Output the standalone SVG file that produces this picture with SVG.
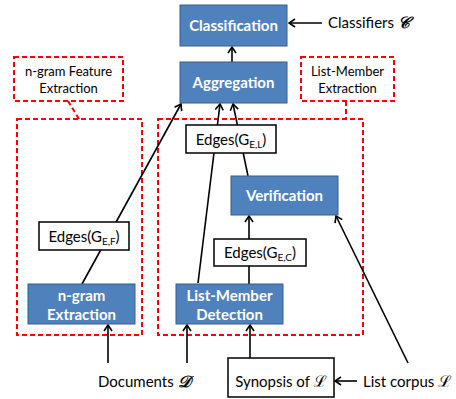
<svg xmlns="http://www.w3.org/2000/svg" width="456" height="399" viewBox="0 0 456 399">
<style>
.blue{fill:#4F81BD;stroke:#385D8A;stroke-width:1}
.wbox{fill:#fff;stroke:#000;stroke-width:1.5}
.dash{fill:none;stroke:#FF0000;stroke-width:2;stroke-dasharray:5,3}
.bt{font-family:Lato,"Liberation Sans",sans-serif;font-weight:bold;font-size:15px;fill:#fff;text-anchor:middle}
.t{font-family:Lato,"Liberation Sans",sans-serif;font-size:15px;fill:#000}
.lt{font-family:Lato,"Liberation Sans",sans-serif;font-size:13px;fill:#000;text-anchor:middle}
.sub{font-size:10px}
.m{font-family:"DejaVu Serif","Noto Sans",serif;font-weight:bold;font-style:italic;font-size:16px}
.c{fill:none;stroke:#000;stroke-width:1.6}
</style>
<defs>
<marker id="ah" markerWidth="10" markerHeight="10" refX="9" refY="5" orient="auto" markerUnits="userSpaceOnUse">
<path d="M3,1 L9,5 L3,9" fill="none" stroke="#000" stroke-width="1.6"/>
</marker>
</defs>

<g id="ngram-feature-label">
<rect class="dash" x="14" y="57" width="109" height="44"/>
<text class="lt" x="68.5" y="76">n-gram Feature</text>
<text class="lt" x="68.5" y="93">Extraction</text>
</g>
<g id="list-member-label">
<rect class="dash" x="301" y="57" width="93" height="44"/>
<text class="lt" x="347.5" y="76">List-Member</text>
<text class="lt" x="347.5" y="93">Extraction</text>
</g>
<g id="ngram-region">
<rect class="dash" x="17" y="119" width="125" height="216"/>
</g>
<g id="list-member-region">
<rect class="dash" x="158" y="119" width="205" height="216"/>
</g>

<g id="connectors">
<line class="dash" x1="68" y1="101" x2="79" y2="119"/>
<line class="dash" x1="346" y1="101" x2="346" y2="119"/>
<line class="c" x1="232" y1="62" x2="232" y2="47" marker-end="url(#ah)"/>
<line class="c" x1="322" y1="23" x2="289" y2="23" marker-end="url(#ah)"/>
<line class="c" x1="82" y1="284" x2="181" y2="104" marker-end="url(#ah)"/>
<line class="c" x1="198" y1="283" x2="220" y2="104" marker-end="url(#ah)"/>
<line class="c" x1="248" y1="176" x2="233" y2="104" marker-end="url(#ah)"/>
<line class="c" x1="249" y1="239" x2="249" y2="216" marker-end="url(#ah)"/>
<line class="c" x1="249" y1="284" x2="249" y2="266"/>
<line class="c" x1="108" y1="363" x2="108" y2="325" marker-end="url(#ah)"/>
<line class="c" x1="187" y1="363" x2="187" y2="325" marker-end="url(#ah)"/>
<line class="c" x1="250" y1="358" x2="250" y2="325" marker-end="url(#ah)"/>
<line class="c" x1="357" y1="381" x2="335" y2="381" marker-end="url(#ah)"/>
<line class="c" x1="408" y1="363" x2="336" y2="216" marker-end="url(#ah)"/>
</g>

<g id="classification">
<rect class="blue" x="180" y="5" width="107" height="41"/>
<text class="bt" x="233.5" y="31">Classification</text>
</g>
<g id="aggregation">
<rect class="blue" x="180" y="62" width="107" height="41"/>
<text class="bt" x="233.5" y="88">Aggregation</text>
</g>
<g id="classifiers">
<text class="t" x="328" y="28">Classifiers <tspan class="m">𝒞</tspan></text>
</g>
<g id="edges-gel">
<rect class="wbox" x="186" y="125" width="90" height="28"/>
<text class="t" x="231" y="144.5" text-anchor="middle">Edges(G<tspan class="sub" dy="3">E,L</tspan><tspan dy="-3">)</tspan></text>
</g>
<g id="verification">
<rect class="blue" x="231" y="176" width="107" height="39"/>
<text class="bt" x="284.5" y="201">Verification</text>
</g>
<g id="edges-gec">
<rect class="wbox" x="214" y="239" width="92" height="27"/>
<text class="t" x="260" y="258" text-anchor="middle">Edges(G<tspan class="sub" dy="3">E,C</tspan><tspan dy="-3">)</tspan></text>
</g>
<g id="edges-gef">
<rect class="wbox" x="39" y="222" width="90" height="28"/>
<text class="t" x="84" y="241.5" text-anchor="middle">Edges(G<tspan class="sub" dy="3">E,F</tspan><tspan dy="-3">)</tspan></text>
</g>
<g id="ngram-extraction">
<rect class="blue" x="28" y="284" width="107" height="40"/>
<text class="bt" x="81.5" y="300.5">n-gram</text>
<text class="bt" x="81.5" y="320">Extraction</text>
</g>
<g id="list-member-detection">
<rect class="blue" x="176" y="284" width="107" height="40"/>
<text class="bt" x="229.5" y="300.5">List-Member</text>
<text class="bt" x="229.5" y="320">Detection</text>
</g>
<g id="documents">
<text class="t" x="98" y="387">Documents <tspan class="m">𝒟</tspan></text>
</g>
<g id="synopsis">
<rect class="wbox" x="228" y="358" width="106" height="39"/>
<text class="t" x="281" y="387" text-anchor="middle">Synopsis of <tspan class="m">ℒ</tspan></text>
</g>
<g id="list-corpus">
<text class="t" x="363" y="387">List corpus <tspan class="m">ℒ</tspan></text>
</g>
</svg>
